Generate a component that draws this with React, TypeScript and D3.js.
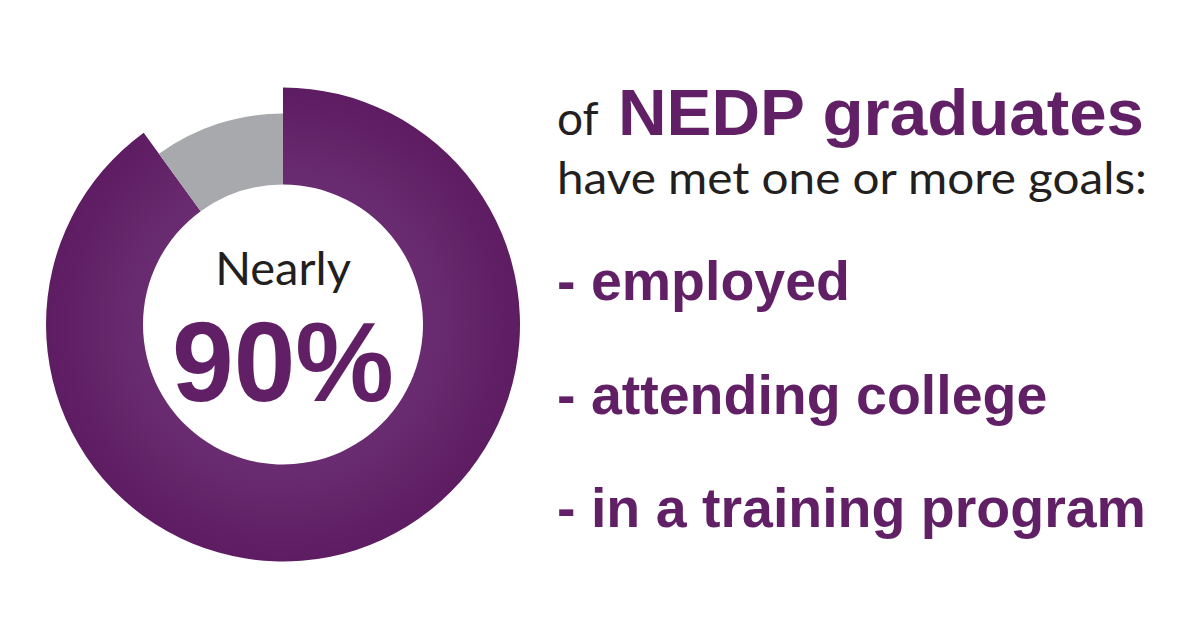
import * as d3 from "d3";
import React from "react";

// chart values
const shareLabels = ["met goals", "other"];
const shareValues = [90, 10];
const shareColors = ["url(#purpleBand)", "#a7a9ac"];
const centerLabel = "Nearly";
const centerValue = "90%";
const headLead = "of ";
const headStrong = "NEDP graduates";
const subHead = "have met one or more goals:";
const goals = ["- employed", "- attending college", "- in a training program"];

const width = 1200;
const height = 630;
const purple = "#611f65";
const ink = "#231f20";

export default function App() {
  const cx = 283;
  const cy = 324.5;
  const innerR = 140;
  const outerR = [237, 211]; // purple slice sticks out past the grey one

  const pie = d3
    .pie<number>()
    .sort(null)
    .value((d) => d);
  const arcs = pie(shareValues);

  const arcFor = (i: number) =>
    d3.arc<d3.PieArcDatum<number>>().innerRadius(innerR).outerRadius(outerR[i]);

  // goal lines stacked down the right column
  const goalY = d3
    .scalePoint<string>()
    .domain(goals)
    .range([300, 527]);

  return (
    <svg
      width={width}
      height={height}
      viewBox={`0 0 ${width} ${height}`}
      style={{ position: "absolute", left: 0, top: 0, background: "#fff" }}
    >
      <defs>
        <radialGradient id="purpleBand" gradientUnits="userSpaceOnUse" cx={0} cy={0} r={outerR[0]}>
          <stop offset={innerR / outerR[0]} stopColor="#6a2c71" />
          <stop offset={0.8} stopColor="#642468" />
          <stop offset={1} stopColor="#5e1c62" />
        </radialGradient>
      </defs>

      <g transform={`translate(${cx},${cy})`}>
        {arcs.map((a, i) => (
          <path key={shareLabels[i]} d={arcFor(i)(a) ?? ""} fill={shareColors[i]}>
            <title>{`${shareLabels[i]}: ${shareValues[i]}%`}</title>
          </path>
        ))}
        <text
          y={-40}
          textAnchor="middle"
          fontFamily="Lato, 'Open Sans', sans-serif"
          fontSize={47}
          fill={ink}
        >
          {centerLabel}
        </text>
        <text
          y={76}
          textAnchor="middle"
          fontFamily="'Liberation Sans', Arial, sans-serif"
          fontWeight="bold"
          fontSize={114}
          fill={purple}
          textLength={222}
          lengthAdjust="spacingAndGlyphs"
        >
          {centerValue}
        </text>
      </g>

      <text x={557} y={135} fill={ink} fontFamily="Lato, 'Open Sans', sans-serif">
        <tspan fontSize={46}>{headLead}</tspan>
        <tspan
          x={618}
          fontSize={64}
          fontWeight="bold"
          fill={purple}
          fontFamily="'Liberation Sans', Arial, sans-serif"
          textLength={526}
          lengthAdjust="spacingAndGlyphs"
        >
          {headStrong}
        </tspan>
      </text>
      <text
        x={557}
        y={194}
        fill={ink}
        fontSize={45}
        fontFamily="Lato, 'Open Sans', sans-serif"
        textLength={590}
        lengthAdjust="spacingAndGlyphs"
      >
        {subHead}
      </text>

      {goals.map((g) => (
        <text
          key={g}
          x={557}
          y={goalY(g)}
          fill={purple}
          fontSize={55.5}
          fontWeight="bold"
          fontFamily="'Liberation Sans', Arial, sans-serif"
        >
          {g}
        </text>
      ))}
    </svg>
  );
}
